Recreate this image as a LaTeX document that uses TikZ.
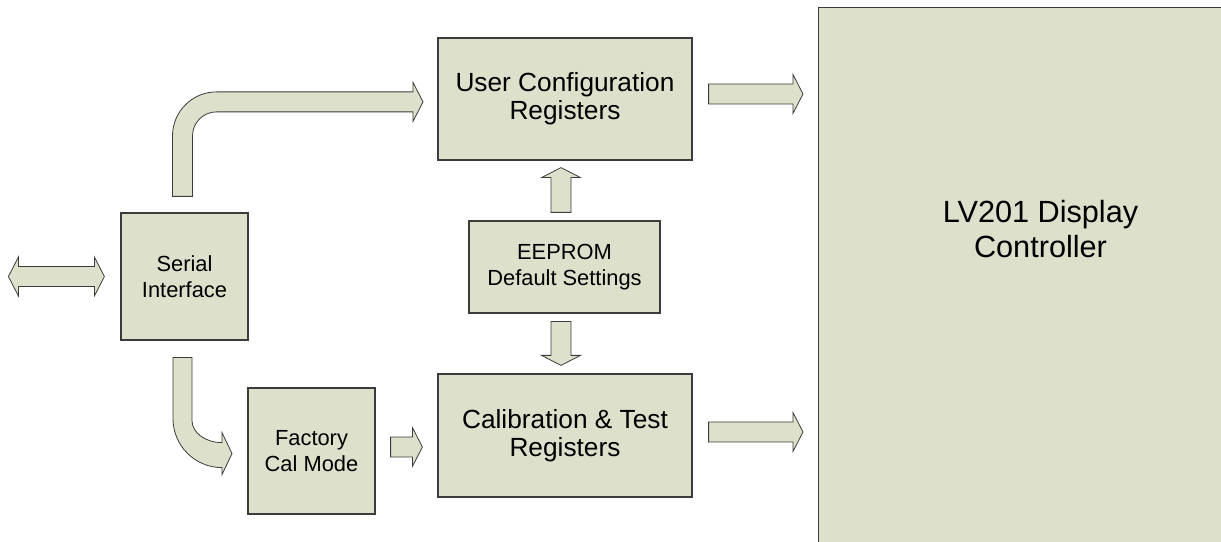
\documentclass[tikz,border=0pt]{standalone}
\usepackage{fontspec}
\setmainfont{Liberation Sans}
\usetikzlibrary{calc}
\definecolor{boxfill}{RGB}{221,224,203}
\definecolor{boxline}{RGB}{60,60,60}
\newcommand{\textsmall}{\fontsize{16.4}{19.7}\selectfont}
\newcommand{\textlarge}{\fontsize{19.7}{21}\selectfont}
\newcommand{\texthuge}{\fontsize{23}{26}\selectfont}
% straight block arrow from #1 (tail) to #2 (tip)
\newcommand{\blockarrow}[2]{%
  \coordinate (hb) at ($(#2)!7.5pt!(#1)$);
  \draw[barrow] ($(#1)!7.5pt!90:(#2)$) -- ($(hb)!7.5pt!-90:(#1)$) -- ($(hb)!14.6pt!-90:(#1)$)
    -- (#2) -- ($(hb)!14.6pt!90:(#1)$) -- ($(hb)!7.5pt!90:(#1)$) -- ($(#1)!7.5pt!-90:(#2)$) -- cycle;}

\begin{document}
\begin{tikzpicture}[x=0.75pt, y=0.75pt]
    \tikzstyle{block}=[draw=boxline, fill=boxfill, line width=0.9pt, inner sep=0pt, align=center, font=\textsmall]
    \tikzstyle{barrow}=[draw=boxline, fill=boxfill, line width=0.6pt, line join=miter]

    \useasboundingbox (0,0) rectangle (1221,542);
    \clip (0,0) rectangle (1221,542);

    % Blocks
    \node[block, minimum width=95.25pt, minimum height=95.25pt] (serial) at (184.5,265.5) {Serial\\Interface};
    \node[block, minimum width=190.5pt, minimum height=91.5pt, font=\textlarge] (user) at (565,443) {User Configuration\\Registers};
    \node[block, minimum width=143.25pt, minimum height=69pt] (eeprom) at (564.5,275) {EEPROM\\Default Settings};
    \node[block, minimum width=190.5pt, minimum height=92.25pt, font=\textlarge] (calib) at (565,106.5) {Calibration \& Test\\Registers};
    \node[block, minimum width=95.25pt, minimum height=94.5pt] (factory) at (311.5,91) {Factory\\Cal Mode};
    \node[block, anchor=north west, minimum width=337.5pt, minimum height=435pt] (lv) at (818,535) {};
    \node[font=\texthuge, align=center] (lvtext) at ($(lv.north west)+(222.5,-222)$) {LV201 Display\\Controller};

    % Arrow end points
    \coordinate (u1) at ($(user.east)+(16,5)$);
    \coordinate (u2) at ($(lv.west |- user.east)+(-15,5)$);
    \coordinate (c1) at ($(calib.east)+(16,3.5)$);
    \coordinate (c2) at ($(lv.west |- calib.east)+(-15,3.5)$);
    \coordinate (e1) at ($(eeprom.north)+(-3.5,8)$);
    \coordinate (e2) at ($(e1 |- user.south)+(0,-7)$);
    \coordinate (d1) at ($(eeprom.south)+(-3.5,-8)$);
    \coordinate (d2) at ($(d1 |- calib.north)+(0,8)$);
    \coordinate (f1) at ($(factory.east)+(15,4)$);
    \coordinate (f2) at ($(f1 -| calib.west)+(-15,0)$);

    % Straight arrows
    \blockarrow{u1}{u2}
    \blockarrow{c1}{c2}
    \blockarrow{e1}{e2}
    \blockarrow{d1}{d2}
    \blockarrow{f1}{f2}

    % Two way arrow into the serial interface
    \draw[barrow] ($(serial.west)+(-112,0)$) -- ++(10,19.5) -- ++(0,-9.5) -- ++(76,0) -- ++(0,9.5)
        -- ++(10,-19.5) -- ++(-10,-19.5) -- ++(0,9.5) -- ++(-76,0) -- ++(0,-9.5) -- cycle;

    % Bent arrow up to the user registers
    \draw[barrow] ($(serial.north)+(-12,16)$) -- ++(0,60.5) arc[start angle=180, end angle=90, radius=33pt]
        -- ++(196.5,0) -- ++(0,9.5) -- ++(10,-19.5) -- ++(-10,-19.5) -- ++(0,9.5) -- ++(-196.5,0)
        arc[start angle=90, end angle=180, radius=18pt] -- ++(0,-60.5) -- cycle;

    % Bent arrow down to factory cal mode
    \draw[barrow] ($(serial.south)+(-11.5,-17)$) -- ++(0,-61) arc[start angle=180, end angle=270, radius=36.75pt]
        -- ++(0,-7) -- ++(10,21) -- ++(-10,21) -- ++(0,-10)
        arc[start angle=270, end angle=180, x radius=22.5pt, y radius=16.5pt] -- ++(0,63) -- cycle;
\end{tikzpicture}
\end{document}
